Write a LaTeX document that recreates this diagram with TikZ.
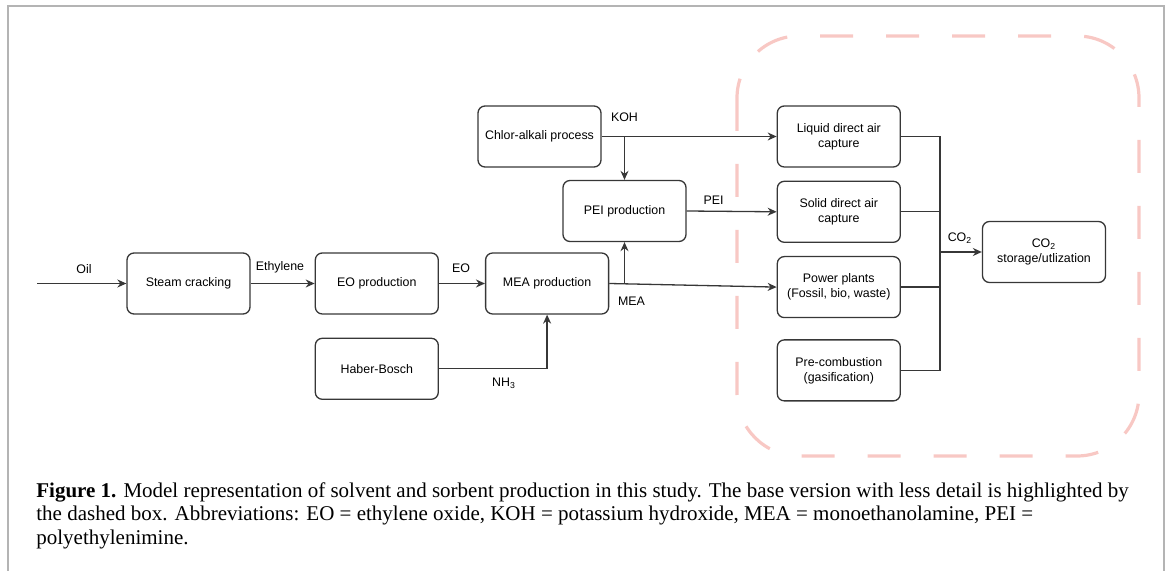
\documentclass[tikz,border=0pt]{standalone}
\usepackage{fontspec}
\setmainfont{Liberation Serif}
\setsansfont{Liberation Sans}
\usetikzlibrary{positioning,arrows.meta}
\definecolor{hlpink}{RGB}{248,200,196}
\definecolor{framegray}{RGB}{180,180,180}
\definecolor{ink}{RGB}{55,55,55}

\begin{document}
\begin{tikzpicture}[x=0.5pt,y=-0.5pt,>={Stealth[length=4.5pt,width=4pt]}]
  \tikzstyle{proc}=[draw=ink,line width=0.65pt,rounded corners=3.5pt,minimum width=61.5pt,minimum height=30.5pt,align=center,font=\sffamily\fontsize{6.2}{7.5}\selectfont,inner sep=1pt]
  \tikzstyle{lbl}=[font=\sffamily\fontsize{6.2}{7.5}\selectfont,inner sep=1pt]
  \tikzstyle{flow}=[draw=ink,line width=0.65pt]
  \useasboundingbox (0,0) rectangle (1169,571);
  \draw[framegray,line width=1pt] (8,571) -- (8,6) -- (1164,6) -- (1164,571);
  % base version (dashed)
  \draw[hlpink,line width=1.6pt,dash pattern=on 16.5pt off 16.5pt,rounded corners=31pt] (737,36) rectangle (1139,456);
  % production chain
  \node[proc] (steam) at (188.5,283.5) {Steam cracking};
  \node[proc,right=32pt of steam] (eo) {EO production};
  \node[proc,right=23pt of eo] (mea) {MEA production};
  \node[proc,below=11.5pt of eo] (haber) {Haber-Bosch};
  \node[proc] (chlor) at (539.5,136.5) {Chlor-alkali process};
  \node[proc] (pei) at (624.5,211) {PEI production};
  % capture routes
  \node[proc,right=87.5pt of chlor] (liq) {Liquid direct air\\capture};
  \node[proc,below=6.5pt of liq] (sol) {Solid direct air\\capture};
  \node[proc,below=6.5pt of sol] (pow) {Power plants\\(Fossil, bio, waste)};
  \node[proc,below=10.5pt of pow] (pre) {Pre-combustion\\(gasification)};
  \node[proc] (sto) at (1044,252) {CO\textsubscript{2}\\storage/utlization};
  \coordinate (oilin) at (37,283.5);
  \coordinate (bus) at (940,252);
  % flows
  \draw[flow,->] (oilin) -- (steam);
  \draw[flow,->] (steam) -- (eo);
  \draw[flow,->] (eo) -- (mea);
  \draw[flow,->] (haber.east) -| (mea.south);
  \draw[flow,->] (chlor.east) -- (liq.west);
  \draw[flow,->] (chlor.east -| pei.north) -- (pei.north);
  \draw[flow,->] (pei.east) -- (sol.west);
  \draw[flow,->] (mea.east) -- (pow.west);
  \draw[flow,->] (mea.east -| pei.south) -- (pei.south);
  \draw[flow] (liq.east) -- (liq.east -| bus) -- (pre.east -| bus) -- (pre.east);
  \draw[flow] (sol.east) -- (sol.east -| bus);
  \draw[flow] (pow.east) -- (pow.east -| bus);
  \draw[flow,->] (bus) -- (sto.west);
  % labels
  \node[lbl] (loil) at (84,269) {Oil};
  \node[lbl] (leth) at (280,267) {Ethylene};
  \node[lbl] (leo) at (461,268) {EO};
  \node[lbl] (lkoh) at (624.5,117) {KOH};
  \node[lbl] (lpei) at (713.5,200) {PEI};
  \node[lbl] (lmea) at (631.5,301) {MEA};
  \node[lbl] (lnh) at (504,383) {NH\textsubscript{3}};
  \node[lbl] (lco) at (960,238) {CO\textsubscript{2}};
  % caption
  \node[anchor=north west,inner sep=0pt,align=left,font=\fontsize{10.5}{11.75}\selectfont] (cap) at (36,482) {\textbf{Figure 1.} Model representation of solvent and sorbent production in this study. The base version with less detail is highlighted by\\the dashed box. Abbreviations: EO = ethylene oxide, KOH = potassium hydroxide, MEA = monoethanolamine, PEI =\\polyethylenimine.};
\end{tikzpicture}
\end{document}
